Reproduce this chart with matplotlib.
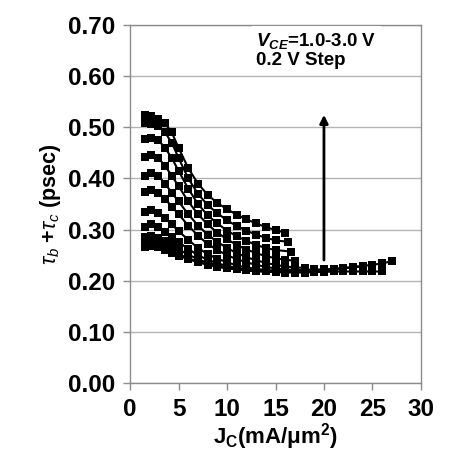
import matplotlib
matplotlib.use('Agg')
import matplotlib.pyplot as plt

plt.rcParams['font.family'] = ['Liberation Sans', 'DejaVu Sans']
plt.rcParams['mathtext.fontset'] = 'custom'
plt.rcParams['mathtext.rm'] = 'Liberation Sans:bold'
plt.rcParams['mathtext.it'] = 'Liberation Sans:italic'
plt.rcParams['mathtext.bf'] = 'Liberation Sans:bold'
plt.rcParams['mathtext.bfit'] = 'Liberation Sans:bold:italic'

# Jc (mA/um^2) and tau_b + tau_c (psec), one pair per Vce step
j_30 = [1.5, 2.2, 2.9, 3.6, 4.3, 5, 6, 7, 8, 9, 10, 11, 12, 13, 14, 15, 16]
tau_30 = [0.525, 0.522, 0.517, 0.508, 0.49, 0.46, 0.42, 0.39, 0.368, 0.352, 0.34,
          0.329, 0.32, 0.312, 0.305, 0.299, 0.294]
j_28 = [1.5, 2.2, 2.9, 3.6, 4.3, 5, 6, 7, 8, 9, 10, 11, 12, 13, 14, 15, 16.3]
tau_28 = [0.508, 0.507, 0.502, 0.49, 0.47, 0.44, 0.40, 0.37, 0.348, 0.332, 0.318,
          0.307, 0.298, 0.29, 0.284, 0.279, 0.276]
j_26 = [1.5, 2.2, 2.9, 3.6, 4.3, 5, 6, 7, 8, 9, 10, 11, 12, 13, 14, 15, 16.6]
tau_26 = [0.478, 0.48, 0.475, 0.46, 0.44, 0.415, 0.38, 0.35, 0.328, 0.312, 0.298,
          0.287, 0.278, 0.27, 0.264, 0.26, 0.257]
j_24 = [1.5, 2.2, 2.9, 3.6, 4.3, 5, 6, 7, 8, 9, 10, 11, 12, 13, 14, 15, 16, 17]
tau_24 = [0.442, 0.445, 0.44, 0.425, 0.405, 0.385, 0.355, 0.33, 0.31, 0.294, 0.281,
          0.27, 0.261, 0.254, 0.248, 0.244, 0.241, 0.239]
j_22 = [1.5, 2.2, 2.9, 3.6, 4.3, 5, 6, 7, 8, 9, 10, 11, 12, 13, 14, 15, 16, 17, 18]
tau_22 = [0.405, 0.41, 0.405, 0.39, 0.372, 0.355, 0.33, 0.308, 0.29, 0.276, 0.264,
          0.254, 0.246, 0.24, 0.235, 0.231, 0.228, 0.226, 0.225]
j_20 = [1.5, 2.2, 2.9, 3.6, 4.3, 5, 6, 7, 8, 9, 10, 11, 12, 13, 14, 15, 16, 17, 18, 19]
tau_20 = [0.374, 0.378, 0.372, 0.36, 0.345, 0.33, 0.308, 0.288, 0.272, 0.26, 0.25,
          0.242, 0.236, 0.231, 0.227, 0.224, 0.222, 0.221, 0.221, 0.222]
j_18 = [1.5, 2.2, 2.9, 3.6, 4.3, 5, 6, 7, 8, 9, 10, 11, 12, 13, 14, 15, 16, 17, 18,
        19, 20]
tau_18 = [0.335, 0.338, 0.333, 0.322, 0.31, 0.297, 0.28, 0.264, 0.252, 0.243, 0.236,
          0.23, 0.226, 0.223, 0.221, 0.22, 0.219, 0.219, 0.22, 0.221, 0.222]
j_16 = [1.5, 2.2, 2.9, 3.6, 4.3, 5, 6, 7, 8, 9, 10, 11, 12, 13, 14, 15, 16, 17, 18,
        19, 20, 21, 22]
tau_16 = [0.306, 0.31, 0.305, 0.296, 0.286, 0.276, 0.262, 0.25, 0.241, 0.234, 0.229,
          0.225, 0.222, 0.22, 0.219, 0.218, 0.218, 0.218, 0.219, 0.22, 0.221, 0.222,
          0.224]
j_14 = [1.5, 2.2, 2.9, 3.6, 4.3, 5, 6, 7, 8, 9, 10, 11, 12, 13, 14, 15, 16, 17, 18,
        19, 20, 21, 22, 23, 24]
tau_14 = [0.285, 0.288, 0.284, 0.277, 0.269, 0.261, 0.251, 0.242, 0.235, 0.23, 0.226,
          0.223, 0.221, 0.219, 0.218, 0.217, 0.217, 0.217, 0.218, 0.219, 0.22, 0.222,
          0.224, 0.226, 0.228]
j_12 = [1.5, 2.2, 2.9, 3.6, 4.3, 5, 6, 7, 8, 9, 10, 11, 12, 13, 14, 15, 16, 17, 18,
        19, 20, 21, 22, 23, 24, 25, 26]
tau_12 = [0.272, 0.275, 0.272, 0.266, 0.259, 0.252, 0.244, 0.237, 0.232, 0.228, 0.225,
          0.222, 0.22, 0.219, 0.218, 0.217, 0.216, 0.216, 0.216, 0.217, 0.217, 0.218,
          0.218, 0.218, 0.218, 0.218, 0.218]
j_10 = [1.5, 2.2, 2.9, 3.6, 4.3, 5, 6, 7, 8, 9, 10, 11, 12, 13, 14, 15, 16, 17, 18,
        19, 20, 21, 22, 23, 24, 25, 26, 27]
tau_10 = [0.265, 0.268, 0.266, 0.261, 0.255, 0.249, 0.242, 0.236, 0.231, 0.227, 0.224,
          0.222, 0.22, 0.219, 0.218, 0.218, 0.218, 0.219, 0.22, 0.221, 0.222, 0.223,
          0.225, 0.227, 0.229, 0.231, 0.234, 0.238]

curves = [(j_10, tau_10), (j_12, tau_12), (j_14, tau_14), (j_16, tau_16),
          (j_18, tau_18), (j_20, tau_20), (j_22, tau_22), (j_24, tau_24),
          (j_26, tau_26), (j_28, tau_28), (j_30, tau_30)]

x_ticks = [0, 5, 10, 15, 20, 25, 30]
y_ticks = [0.0, 0.1, 0.2, 0.3, 0.4, 0.5, 0.6, 0.7]

fig = plt.figure(figsize=(4.55, 4.58), dpi=100)
ax = fig.add_axes([0.286, 0.164, 0.639, 0.781])

for j, tau in curves:
    ax.plot(j, tau, color='black', lw=1.5, marker='s', markersize=5.2,
            markeredgewidth=0, zorder=3)

ax.set_xlim(0, 30)
ax.set_ylim(0, 0.7)
ax.set_xticks(x_ticks)
ax.set_yticks(y_ticks)
ax.set_yticklabels(['%.2f' % v for v in y_ticks])
ax.grid(axis='y', color='#b4b4b4', lw=1.0)
ax.set_axisbelow(True)
for s in ax.spines.values():
    s.set_color('#8c8c8c')
    s.set_linewidth(1.0)
ax.tick_params(axis='both', direction='out', color='#8c8c8c', length=5, width=1,
               labelsize=17.5, pad=6)
for lab in ax.get_xticklabels() + ax.get_yticklabels():
    lab.set_fontweight('bold')

ax.set_ylabel(r'$\tau_b$ +$\tau_c$ (psec)', fontsize=15.5, fontweight='bold',
              labelpad=3)
ax.set_xlabel(r'J$_\mathrm{C}$(mA/μm$^\mathrm{2}$)', fontsize=16,
              fontweight='bold', labelpad=0)

ax.text(13.0, 0.688, '$\\mathbfit{V}_{\\mathbfit{CE}}$=1.0-3.0 V\n0.2 V Step',
        fontsize=13.5, fontweight='bold', va='top', ha='left', linespacing=1.05,
        bbox=dict(facecolor='white', edgecolor='none', pad=3), zorder=4)

ax.annotate('', xy=(20, 0.53), xytext=(20, 0.235),
            arrowprops=dict(arrowstyle='-|>', color='black', lw=2,
                            mutation_scale=12), zorder=4)

fig.savefig('out.png', dpi=100)
